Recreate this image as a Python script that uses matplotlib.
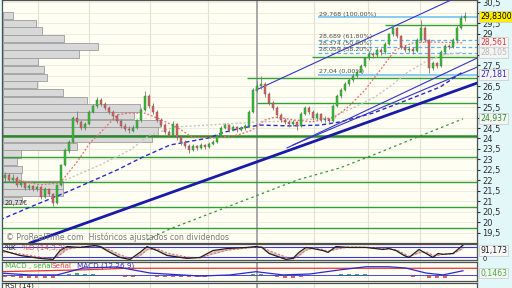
import matplotlib
matplotlib.use('Agg')
import matplotlib.pyplot as plt
import matplotlib.transforms as mtransforms
import numpy as np

# ---------------- data ----------------
opens = [22.10, 22.26, 22.00, 22.12, 21.80, 21.88, 21.62, 21.74, 21.60, 21.69,
         21.22, 21.60, 21.36, 20.95, 21.80, 22.74, 23.40, 23.85, 24.98, 24.79,
         24.50, 24.70, 25.26, 25.55, 25.83, 25.64, 25.45, 25.26, 25.07, 24.83,
         24.60, 24.45, 24.38, 24.50, 24.88, 25.36, 26.02, 25.55, 25.26, 24.88,
         24.64, 24.31, 24.17, 24.69, 24.07, 23.83, 23.64, 23.45, 23.64, 23.55,
         23.69, 23.60, 23.74, 23.83, 24.12, 24.50, 24.64, 24.40, 24.55, 24.40,
         24.50, 24.60, 25.26, 26.31, 26.50, 26.60, 26.12, 25.69, 25.45, 25.12,
         24.88, 24.79, 24.69, 24.79, 24.60, 25.17, 25.45, 25.26, 24.98, 25.17,
         24.88, 24.93, 24.83, 25.55, 26.02, 26.31, 26.60, 26.79, 26.98, 27.17,
         27.45, 27.83, 28.02, 27.98, 28.21, 28.12, 28.50, 28.98, 29.26, 28.88,
         28.36, 28.21, 28.26, 28.17, 28.69, 29.26, 28.69, 27.36, 27.60, 27.45,
         28.12, 28.40, 28.36, 28.69, 29.26, 29.74]
highs = [22.40, 22.35, 22.30, 22.20, 22.00, 21.95, 21.85, 21.80, 21.78, 21.72,
         21.70, 21.65, 21.40, 21.85, 22.80, 23.55, 23.95, 25.05, 25.30, 24.90,
         24.80, 25.35, 25.65, 26.00, 25.95, 25.75, 25.55, 25.35, 25.15, 24.95,
         24.75, 24.60, 24.65, 24.95, 25.45, 26.25, 26.10, 25.70, 25.35, 25.00,
         24.75, 24.40, 24.85, 24.75, 24.15, 23.95, 23.75, 23.75, 23.70, 23.80,
         23.75, 23.85, 23.95, 24.20, 24.60, 24.75, 24.70, 24.65, 24.60, 24.60,
         24.70, 25.35, 26.40, 26.75, 27.00, 26.70, 26.20, 25.80, 25.55, 25.20,
         25.00, 24.90, 24.90, 24.85, 25.25, 25.55, 25.55, 25.35, 25.25, 25.22,
         25.05, 25.00, 25.65, 26.10, 26.40, 26.70, 26.90, 27.10, 27.25, 27.55,
         27.90, 28.15, 28.10, 28.30, 28.30, 28.60, 29.05, 29.40, 29.30, 28.95,
         28.45, 28.40, 28.35, 28.80, 29.64, 29.35, 28.75, 27.70, 27.65, 28.20,
         28.50, 28.50, 28.80, 29.40, 29.90, 30.05]
lows = [21.95, 21.95, 21.90, 21.70, 21.70, 21.55, 21.55, 21.50, 21.50, 21.10,
        21.15, 21.25, 20.77, 20.90, 21.75, 22.70, 23.30, 23.80, 24.70, 24.40,
        24.40, 24.65, 25.20, 25.45, 25.55, 25.35, 25.15, 24.95, 24.75, 24.50,
        24.35, 24.25, 24.30, 24.45, 24.80, 25.30, 25.45, 25.15, 24.80, 24.55,
        24.20, 24.05, 24.10, 23.95, 23.70, 23.55, 23.30, 23.40, 23.45, 23.50,
        23.50, 23.55, 23.70, 23.80, 24.05, 24.45, 24.30, 24.35, 24.30, 24.35,
        24.40, 24.55, 25.20, 26.20, 26.35, 26.00, 25.60, 25.35, 25.00, 24.80,
        24.70, 24.55, 24.60, 24.40, 24.55, 25.10, 25.15, 24.90, 24.90, 24.80,
        24.80, 24.70, 24.80, 25.50, 25.95, 26.25, 26.50, 26.70, 26.90, 27.10,
        27.40, 27.75, 27.85, 27.90, 28.00, 28.05, 28.45, 28.90, 28.80, 28.25,
        28.10, 28.10, 28.05, 28.10, 28.60, 28.60, 27.10, 27.25, 27.35, 27.40,
        28.05, 28.25, 28.30, 28.60, 29.20, 29.60]
closes = [22.26, 22.02, 22.12, 21.79, 21.88, 21.64, 21.74, 21.60, 21.69, 21.21,
          21.60, 21.36, 20.93, 21.79, 22.74, 23.45, 23.83, 24.98, 24.79, 24.50,
          24.69, 25.26, 25.55, 25.83, 25.64, 25.45, 25.26, 25.07, 24.83, 24.60,
          24.45, 24.40, 24.50, 24.88, 25.36, 26.02, 25.55, 25.26, 24.88, 24.64,
          24.31, 24.17, 24.69, 24.07, 23.83, 23.64, 23.45, 23.64, 23.55, 23.69,
          23.60, 23.74, 23.83, 24.12, 24.50, 24.64, 24.40, 24.55, 24.40, 24.50,
          24.60, 25.26, 26.31, 26.50, 26.60, 26.12, 25.69, 25.45, 25.12, 24.88,
          24.79, 24.69, 24.79, 24.60, 25.17, 25.45, 25.26, 24.98, 25.17, 24.88,
          24.93, 24.83, 25.55, 26.02, 26.31, 26.60, 26.79, 26.98, 27.17, 27.45,
          27.83, 28.02, 27.98, 28.21, 28.12, 28.50, 28.98, 29.26, 28.88, 28.36,
          28.21, 28.26, 28.17, 28.69, 29.26, 28.69, 27.36, 27.60, 27.45, 28.12,
          28.40, 28.36, 28.69, 29.26, 29.74, 29.83]

price_ticks = [19.5, 20, 20.5, 21, 21.5, 22, 22.5, 23, 23.5, 24, 24.5, 25,
               25.5, 26, 26.5, 27, 27.5, 28, 28.5, 29, 29.5, 30, 30.5]
# labels hidden behind the value tags are left empty
price_tick_labels = ['19,5', '20', '20,5', '21', '21,5', '22', '22,5', '23',
                     '23,5', '24', '24,5', '', '25,5', '26', '26,5', '',
                     '27,5', '', '', '29', '29,5', '', '30,5']
month_lines = [8.2, 21, 36.25, 50.7, 77.25, 90.7, 103.75]
marker_line = 63

# volume profile (price bin centre, volume)
vp_prices = [29.86, 29.49, 29.12, 28.76, 28.39, 28.02, 27.66, 27.29, 26.92,
             26.56, 26.19, 25.82, 25.46, 25.09, 24.72, 24.36, 23.99, 23.62,
             23.26, 22.89, 22.52, 22.16, 21.79, 21.42, 21.06]
vp_volumes = [10, 33, 39, 61, 95, 76, 35, 41, 44, 34, 60, 84, 137, 131, 157,
              155, 149, 74, 18, 14, 19, 18, 60, 60, 19]

# moving averages (bar index, value)
ma_red_x = [0.75, 8.75, 13.75, 18, 21.25, 23.75, 28, 30.75, 35, 39.25, 43.25,
            46.75, 51.75, 58.25, 61.75, 65, 67.5, 72.5, 76.75, 82.5, 85.75, 90,
            93.25, 97.5, 101.75, 105.75, 114.5]
ma_red_y = [22.12, 21.79, 21.88, 22.88, 23.79, 24.26, 25.12, 25.21, 25.21,
            24.88, 24.50, 24.07, 24.02, 24.17, 24.40, 24.88, 25.02, 24.88,
            24.79, 25.02, 25.50, 26.31, 27.12, 28.21, 28.55, 28.60, 28.56]
ma_gray_x = [15, 23.75, 31.25, 36.25, 42.5, 50.75, 63.25, 71.25, 81.25, 87.5,
             92.5, 96.75, 100.75, 105, 109.25, 114.5]
ma_gray_y = [22.02, 22.74, 23.45, 24.17, 24.55, 24.64, 24.79, 24.83, 24.98,
             25.50, 25.98, 26.55, 27.17, 27.64, 27.98, 28.105]
ma_blue_x = [-1.25, 7, 15.5, 21.25, 28, 34.5, 41.25, 46.75, 50.75, 55, 59.25,
             63.75, 71.25, 78.75, 83.75, 92, 100.5, 108.75, 114.5]
ma_blue_y = [20.12, 20.79, 21.45, 21.93, 22.50, 23.12, 23.69, 23.88, 24.02,
             24.31, 24.50, 24.64, 24.60, 24.64, 24.79, 25.21, 25.83, 26.45,
             27.181]
ma_green_x = [35.5, 41.25, 62, 73, 83.75, 92, 103.75, 114.5]
ma_green_y = [19.17, 19.69, 21.21, 22.02, 22.60, 23.21, 24.12, 24.937]

# trend lines ((x0, x1), (y0, y1))
trend_main = ((6.25, 118), (19.02, 26.64))
trend_upper = ((62.75, 111.5), (26.31, 30.6))
trend_lower_a = ((70.5, 118), (23.55, 27.83))
trend_lower_b = ((72, 118), (23.69, 27.40))

# horizontal support / resistance lines (value, start index)
sr_levels = [29.40, 27.87, 26.87, 25.68, 23.10, 21.94, 20.74, 19.74]
sr_starts = [95, 76.75, 60.5, 63, -0.75, -0.75, -0.75, -0.75]
sr_main = 24.12

# Fibonacci retracement
fib_values = [29.768, 28.689, 28.374, 28.059, 27.04]
fib_labels = ['29,768 (100,00%)', '28,689 (61,80%)', '28,374 (50,00%)',
              '28,059 (38,20%)', '27,04 (0,00%)']
fib_start = 78.25

# stochastic
stoch_x = [-0.5, 3.75, 8.75, 12, 13.75, 15.5, 18.75, 22.5, 23.75, 26.25, 28.75,
           31.25, 33.75, 35.5, 38, 40.5, 45.5, 48.75, 52, 55.5, 60.5, 62.75,
           64.25, 66, 70.25, 72, 73.5, 75.25, 77, 79.5, 80.75, 82.75, 86, 90.25,
           94.5, 96, 97.75, 99.75, 101, 103.5, 105.25, 107, 108.25, 109.5, 112,
           114.5]
stoch_k = [58, 31, 15, 9, 58, 80, 75, 86, 80, 48, 20, 9, 48, 80, 58, 31, 15, 20,
           58, 69, 75, 80, 75, 42, 9, 15, 48, 75, 69, 58, 48, 80, 75, 75, 64, 69,
           58, 31, 20, 64, 42, 20, 42, 37, 42, 88]
stoch_d = [50, 40, 22, 12, 35, 65, 78, 80, 82, 62, 35, 15, 30, 62, 68, 45, 22, 18,
           40, 60, 72, 78, 78, 58, 22, 12, 30, 60, 72, 64, 54, 65, 78, 76, 68, 66,
           62, 42, 26, 45, 52, 32, 32, 38, 40, 70]

# MACD
macd_x = [-1.25, 6.25, 13, 19.5, 28, 36.25, 48.75, 56.25, 62.75, 69.5, 76.25,
          83.5, 90.25, 96, 100.25, 105.25, 109.5, 114.5]
macd_y = [0.13, 0.03, 0.03, 0.39, 0.45, 0.13, -0.03, 0.03, 0.20, 0.03, 0.08,
          0.29, 0.46, 0.46, 0.39, 0.13, 0.03, 0.25]
signal_x = [-1.25, 20, 30.5, 118]
signal_y = [0.20, 0.30, 0.38, 0.38]
hist_x = list(range(0, 116, 2))
hist_y = [-0.08, -0.10, -0.12, -0.12, -0.13, -0.14, -0.15, 0.05, 0.10, 0.12,
          0.10, 0.08, 0.05, 0.02, -0.03, -0.06, -0.06, -0.02, -0.03, -0.06,
          -0.08, -0.07, -0.09, -0.10, -0.08, -0.06, -0.03, 0.02, 0.03, 0.02,
          0.03, 0.08, 0.10, 0.02, -0.08, -0.12, -0.12, -0.08, -0.05, -0.04,
          -0.03, 0.02, 0.06, 0.08, 0.08, 0.07, 0.05, 0.03, 0.04, 0.02, -0.04,
          -0.06, -0.05, -0.14, -0.15, -0.12, -0.05, 0.05]

# right-hand value tags (position, text, text colour, box colour)
tags = [(29.83, '29,8300', '#000000', '#ffee00'),
        (28.561, '28,561', '#e03a3a', '#f4f4f4'),
        (28.105, '28,105', '#b8b8b8', '#f4f4f4'),
        (27.05, '27,181', '#2c2cc0', '#f4f4f4'),
        (24.937, '24,937', '#2a8a2a', '#f4f4f4')]

# ---------------- figure ----------------
W, H = 512, 288
fig = plt.figure(figsize=(W / 100, H / 100), dpi=100, facecolor='#e2f8f8')
XL = (-0.75, 118)
BG = '#fefef3'


def add_ax(top_px, bottom_px):
    a = fig.add_axes([2 / W, 1 - bottom_px / H, 475 / W, (bottom_px - top_px) / H])
    a.set_facecolor(BG)
    a.set_xlim(*XL)
    for s in a.spines.values():
        s.set_color('#505050')
        s.set_linewidth(0.9)
    return a


ax = add_ax(0, 243)
ax.set_ylim(19.02, 30.6)
ax.yaxis.tick_right()
ax.set_yticks(price_ticks)
ax.set_yticklabels(price_tick_labels)
ax.tick_params(axis='y', labelsize=6, length=2, pad=2, colors='#303030')
ax.set_xticks(month_lines)
ax.tick_params(axis='x', length=0, labelbottom=False)
ax.grid(axis='y', color='#eae9da', lw=0.6, zorder=0)
ax.grid(axis='x', color='#e2e2d2', lw=0.8, zorder=0)
ax.set_axisbelow(True)

# volume profile
trans = mtransforms.blended_transform_factory(ax.transAxes, ax.transData)
vp_scale = 475.0
ax.barh(vp_prices, [v / vp_scale for v in vp_volumes], height=0.35, left=0.002,
        transform=trans, color='#d8d8d8', edgecolor='#9c9c9c', lw=0.6, zorder=1)

ax.axvline(marker_line, color='#a8a8a8', lw=1.4, zorder=1.5)

# support / resistance
for v, s in zip(sr_levels, sr_starts):
    ax.hlines(v, s, XL[1], color='#34a034', lw=1.0, zorder=2)
ax.hlines(sr_main, XL[0], XL[1], color='#2c8a2c', lw=1.8, zorder=2)

# fibonacci
for i, (v, lab) in enumerate(zip(fib_values, fib_labels)):
    solid = i in (0, len(fib_values) - 1)
    ax.hlines(v, fib_start, XL[1], color='#86ccf0' if solid else '#5ab4ec',
              lw=1.4 if solid else 0.9, ls='-' if solid else (0, (3, 2)), zorder=2)
    ax.text(fib_start + 0.3, v + 0.04, lab, fontsize=4.6, color='#505050',
            va='bottom', ha='left', zorder=6)

# moving averages
ax.plot(ma_green_x, ma_green_y, color='#3a943a', lw=0.9, ls=(0, (2, 2.5)), zorder=2.5)
ax.plot(ma_blue_x, ma_blue_y, color='#2a2acc', lw=1.0, ls=(0, (3, 2)), zorder=2.5)
ax.plot(ma_gray_x, ma_gray_y, color='#c4c4c4', lw=1.0, ls=(0, (1.5, 1.5)), zorder=2.5)
ax.plot(ma_red_x, ma_red_y, color='#ec6a6a', lw=0.9, ls=(0, (1.5, 1.5)), zorder=2.5)

# trend lines
ax.plot(*trend_main, color='#1a1aa8', lw=2.0, zorder=2.6)
ax.plot(*trend_upper, color='#3434c8', lw=0.8, zorder=2.6)
ax.plot(*trend_lower_a, color='#3434c8', lw=0.8, zorder=2.6)
ax.plot(*trend_lower_b, color='#3434c8', lw=0.8, zorder=2.6)

# candles
idx = np.arange(len(closes))
o = np.array(opens)
c = np.array(closes)
up = c >= o
body_col = np.where(up, '#3cbc3c', '#d26464')
edge_col = np.where(up, '#2a7a2a', '#8a4a4a')
ax.vlines(idx, lows, highs, color='#7a7a7a', lw=0.6, zorder=3)
ax.bar(idx, np.maximum(np.abs(c - o), 0.03), bottom=np.minimum(o, c), width=0.62,
       color=body_col, edgecolor=edge_col, lw=0.3, zorder=4)

ax.text(0.0, 20.95, '20,77€', fontsize=4.8, color='#303030', va='center',
        ha='left', zorder=6)
ax.text(0.008, 0.022, '© ProRealTime.com  Históricos ajustados con dividendos',
        transform=ax.transAxes, fontsize=5.6, color='#7a7a7a', va='center',
        ha='left', zorder=6)

ytrans = ax.get_yaxis_transform()
for v, t, tc, bc in tags:
    ax.text(1.007, v, t, transform=ytrans, fontsize=5.6, color=tc, va='center',
            ha='left', zorder=7, clip_on=False,
            bbox=dict(boxstyle='square,pad=0.12', fc=bc, ec='#c8c8c8', lw=0.5))

# ---------------- stochastic panel ----------------
ax2 = add_ax(244, 260)
ax2.set_ylim(6, 94)
ax2.set_xticks(month_lines)
ax2.set_yticks([])
ax2.tick_params(axis='x', length=0, labelbottom=False)
ax2.grid(axis='x', color='#e2e2d2', lw=0.8)
ax2.axvline(marker_line, color='#a8a8a8', lw=1.4)
ax2.axhline(80, color='#3a3ad0', lw=0.8)
ax2.axhline(20, color='#3a3ad0', lw=0.8)
ax2.fill_between(stoch_x, stoch_k, stoch_d, color='#b8a0a0', alpha=0.55, lw=0)
ax2.plot(stoch_x, stoch_d, color='#ec6a6a', lw=0.8, ls=(0, (2, 1.5)))
ax2.plot(stoch_x, stoch_k, color='#202020', lw=0.9)
ax2.text(0.006, 0.78, '%K', transform=ax2.transAxes, fontsize=5.2, color='#202020',
         va='center', ha='left')
ax2.text(0.042, 0.78, '%D (14,3,3)', transform=ax2.transAxes, fontsize=5.2,
         color='#e05050', va='center', ha='left')
ax2.text(1.007, 0.62, '91,173', transform=ax2.transAxes, fontsize=5.6, color='#202020',
         va='center', ha='left', clip_on=False,
         bbox=dict(boxstyle='square,pad=0.12', fc='#f6f6f6', ec='#c8c8c8', lw=0.5))
ax2.text(1.012, 0.05, '0', transform=ax2.transAxes, fontsize=4.8, color='#202020',
         va='center', ha='left', clip_on=False)

# ---------------- MACD panel ----------------
ax3 = add_ax(262, 281)
ax3.set_ylim(-0.29, 0.71)
ax3.set_xticks(month_lines)
ax3.set_yticks([])
ax3.tick_params(axis='x', length=0, labelbottom=False)
ax3.grid(axis='x', color='#e2e2d2', lw=0.8)
ax3.axvline(marker_line, color='#a8a8a8', lw=1.4)
hcol = ['#40b840' if h >= 0 else '#e06060' for h in hist_y]
ax3.bar(hist_x, hist_y, width=0.9, color=hcol, lw=0)
ax3.axhline(0, color='#4a4ad0', lw=0.7)
ax3.plot(signal_x, signal_y, color='#ee3030', lw=0.9)
ax3.plot(macd_x, macd_y, color='#2a2acc', lw=0.9)
ax3.text(0.006, 0.8, 'MACD , señal', transform=ax3.transAxes, fontsize=5.2,
         color='#40b040', va='center', ha='left')
ax3.text(0.105, 0.8, 'Señal', transform=ax3.transAxes, fontsize=5.2,
         color='#e04040', va='center', ha='left')
ax3.text(0.158, 0.8, 'MACD (12,26,9)', transform=ax3.transAxes, fontsize=5.2,
         color='#2a2acc', va='center', ha='left')
ax3.text(1.007, 0.42, '0,1463', transform=ax3.transAxes, fontsize=5.6, color='#40b040',
         va='center', ha='left', clip_on=False,
         bbox=dict(boxstyle='square,pad=0.12', fc='#f6f6f6', ec='#c8c8c8', lw=0.5))

# ---------------- RSI panel ----------------
ax4 = add_ax(283, 308)
ax4.set_ylim(0, 100)
ax4.set_xticks(month_lines)
ax4.set_yticks([])
ax4.tick_params(axis='x', length=0, labelbottom=False)
ax4.grid(axis='x', color='#e2e2d2', lw=0.8)
ax4.axvline(marker_line, color='#a8a8a8', lw=1.4)
ax4.text(0.006, 0.88, 'RSI (14)', transform=ax4.transAxes, fontsize=5.2,
         color='#202020', va='center', ha='left')

fig.savefig('out.png', dpi=100, facecolor=fig.get_facecolor())
